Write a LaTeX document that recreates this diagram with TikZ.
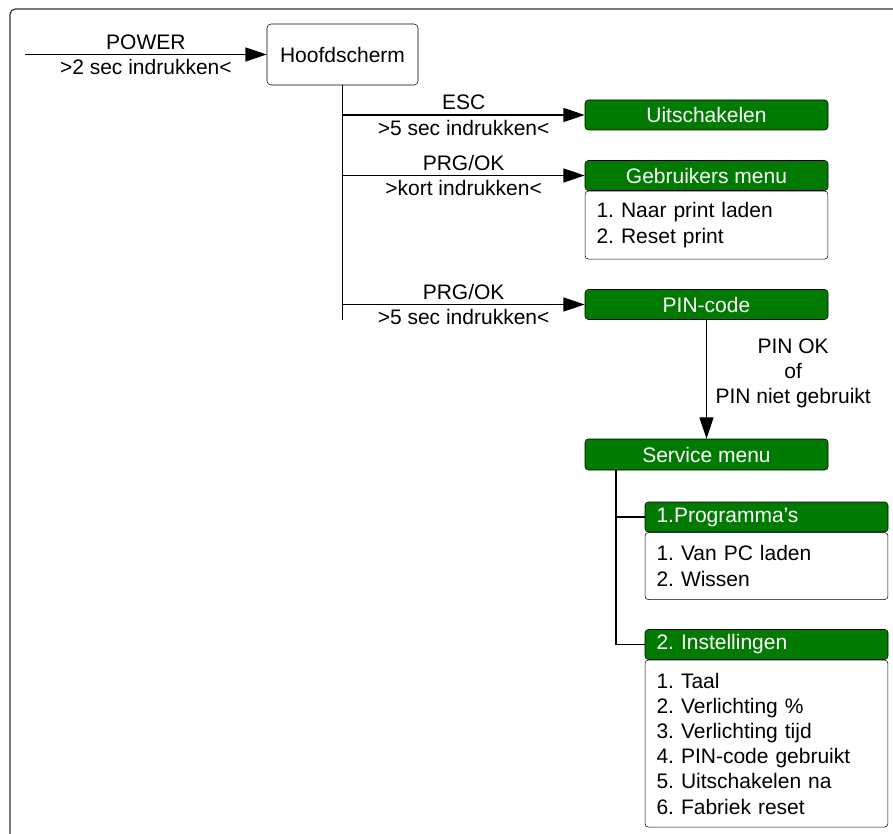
\documentclass[tikz,border=0pt]{standalone}
\usepackage{fontspec}
\setmainfont{Liberation Sans}
\usetikzlibrary{arrows.meta}
\definecolor{menugreen}{RGB}{0,122,0}
\frenchspacing

\begin{document}
\begin{tikzpicture}[x=0.75pt, y=-0.75pt,
  font=\fontsize{15.75}{18.9}\selectfont,
  screen/.style={draw, rounded corners=3pt, minimum width=113.25pt, minimum height=45.75pt, inner sep=0pt},
  head/.style={draw, rounded corners=2.5pt, fill=menugreen, text=white, minimum width=182.25pt, minimum height=22.5pt, inner sep=0pt},
  headl/.style={head, text width=165pt, align=left, inner xsep=8.6pt},
  list/.style={draw, rounded corners=2.5pt, text width=165pt, align=left, inner xsep=8.6pt, inner ysep=0pt, anchor=north},
  conn/.style={line width=0.9pt},
  arr/.style={conn, -{Triangle[length=16pt, width=10.5pt]}}]
  \path[use as bounding box, clip] (0,0) rectangle (893,834);
  \draw[conn, black!80, rounded corners=4pt] (10,850) -- (10,9) -- (910,9);

  \node[screen] (hoofd) at (342.5,54.5) {Hoofdscherm};
  \node[head] (uit) at (706.5,115) {Uitschakelen};
  \node[head] (gebr) at (706.5,175.5) {Gebruikers menu};
  \node[list, minimum height=51pt] (gebrlist) at (gebr.south) {1. Naar print laden\\2. Reset print};
  \node[head] (pin) at (706.5,304.5) {PIN-code};
  \node[head, minimum height=23.25pt] (svc) at (706.5,454.5) {Service menu};
  \node[headl] (prog) at (766.5,517) {1.Programma's};
  \node[list, minimum height=50.25pt] (proglist) at (prog.south) {1. Van PC laden\\2. Wissen};
  \node[headl] (inst) at (766.5,644.5) {2. Instellingen};
  \node[list, minimum height=125.25pt] (instlist) at (inst.south) {1. Taal\\2. Verlichting \%\\3. Verlichting tijd\\4. PIN-code gebruikt\\5. Uitschakelen na\\6. Fabriek reset};

  \coordinate (start) at (25,54.5);
  \coordinate (t1) at (342.5,320);
  \coordinate (t2) at (616,470);

  % Draw the key presses
  \draw[arr] (start) -- node[above]{POWER} node[below]{>2 sec indrukken<} (hoofd.west);
  \draw[conn] (hoofd.south) -- (t1);
  \draw[arr] (hoofd.south |- uit.west) -- node[above]{ESC} node[below]{>5 sec indrukken<} (uit.west);
  \draw[arr] (hoofd.south |- gebr.west) -- node[above]{PRG/OK} node[below]{>kort indrukken<} (gebr.west);
  \draw[arr] (hoofd.south |- pin.west) -- node[above]{PRG/OK} node[below]{>5 sec indrukken<} (pin.west);
  \draw[arr] (pin) -- node[right, align=center, xshift=3pt, yshift=4.5pt]{PIN OK\\of\\PIN niet gebruikt} (svc);
  % Draw the service menu tree
  \draw[conn] (t2) -- (t2 |- inst.west) -- (inst.west);
  \draw[conn] (t2 |- prog.west) -- (prog.west);
\end{tikzpicture}
\end{document}
